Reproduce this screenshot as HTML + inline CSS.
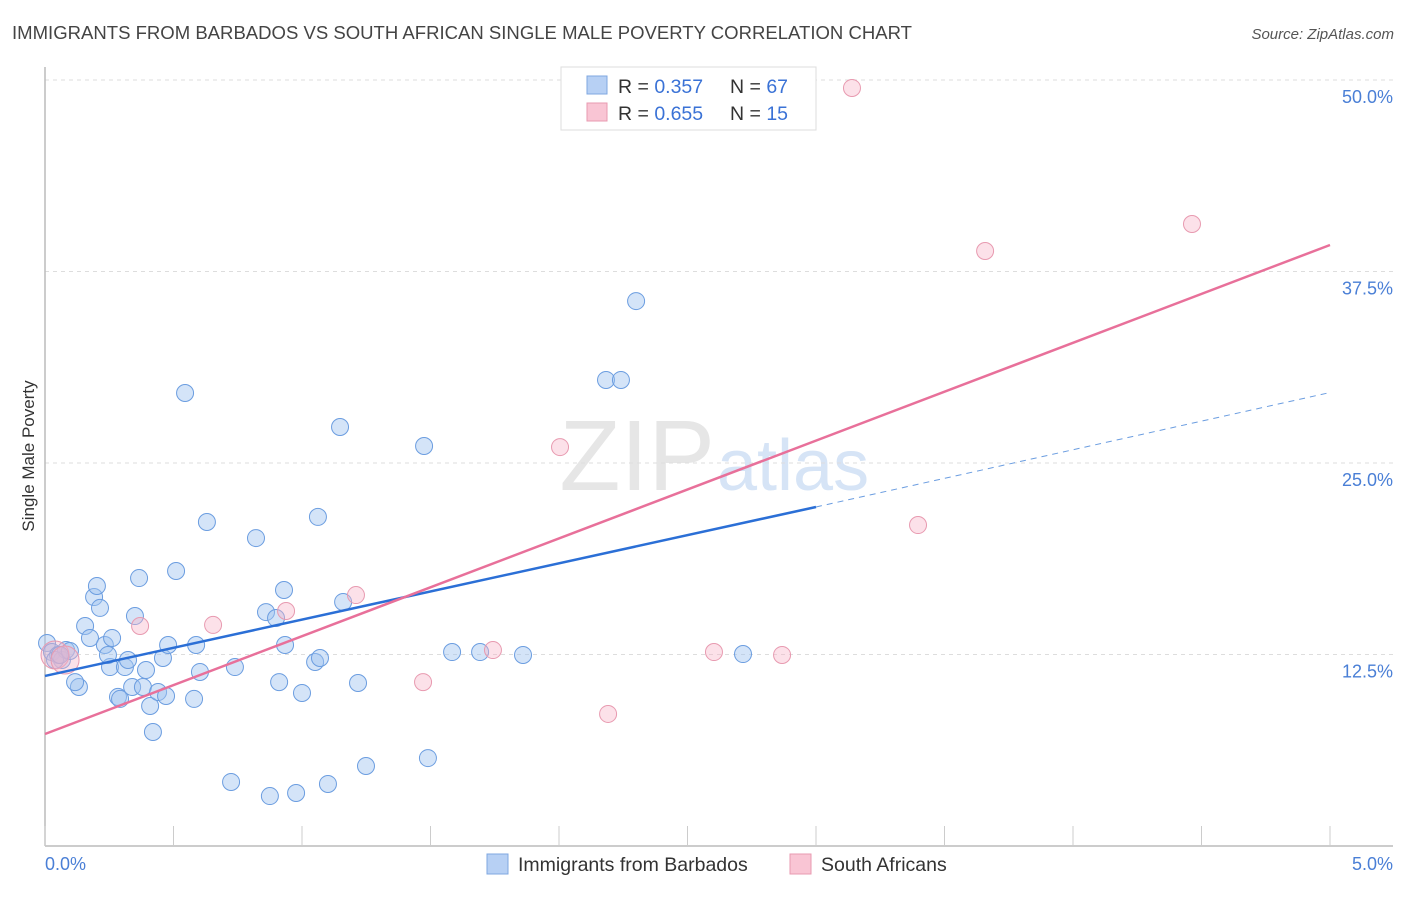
<!DOCTYPE html>
<html><head><meta charset="utf-8"><style>
body{margin:0;background:#fff;font-family:"Liberation Sans",sans-serif}
svg text{font-family:"Liberation Sans",sans-serif}
</style></head><body>
<svg id="c" width="1406" height="892">
<text x="12" y="39" font-size="18" fill="#444" textLength="900" lengthAdjust="spacingAndGlyphs">IMMIGRANTS FROM BARBADOS VS SOUTH AFRICAN SINGLE MALE POVERTY CORRELATION CHART</text>
<text x="1394" y="39" font-size="15" fill="#555" font-style="italic" text-anchor="end">Source: ZipAtlas.com</text>
<text x="0" y="0" transform="translate(34,456) rotate(-90)" font-size="17" fill="#333" text-anchor="middle">Single Male Poverty</text>
<text x="715" y="490" font-size="100" fill="#e6e6e6" font-family="Liberation Serif" text-anchor="end">ZIP</text>
<text x="717" y="490" font-size="72" fill="#d6e4f6">atlas</text>
<g id="grid"></g><g id="pts"></g><g id="lines"></g>
<g>
<rect x="561" y="67" width="255" height="63" fill="#fff" stroke="#ddd"/>
<rect x="587" y="76" width="20" height="18" fill="#b7d0f4" stroke="#7fa7e0"/>
<rect x="587" y="103" width="20" height="18" fill="#f9c5d4" stroke="#e89ab0"/>
<text x="618" y="93" font-size="19.5" fill="#333">R = <tspan fill="#3a72d6">0.357</tspan></text>
<text x="730" y="93" font-size="19.5" fill="#333">N = <tspan fill="#3a72d6">67</tspan></text>
<text x="618" y="120" font-size="19.5" fill="#333">R = <tspan fill="#3a72d6">0.655</tspan></text>
<text x="730" y="120" font-size="19.5" fill="#333">N = <tspan fill="#3a72d6"> 15</tspan></text>
</g>
<g>
<rect x="487" y="854" width="21" height="20" fill="#b7d0f4" stroke="#7fa7e0"/>
<text x="518" y="871" font-size="19.5" fill="#333">Immigrants from Barbados</text>
<rect x="790" y="854" width="21" height="20" fill="#f9c5d4" stroke="#e89ab0"/>
<text x="821" y="871" font-size="19.5" fill="#333">South Africans</text>
</g>
<text x="45" y="870" font-size="18" fill="#4a7fd6">0.0%</text>
<text x="1393" y="870" font-size="18" fill="#4a7fd6" text-anchor="end">5.0%</text>
</svg>
<script>
const yTicks=[12.5,25,37.5,50];
const yTickLabels=["12.5%","25.0%","37.5%","50.0%"];
const blueX=[.008,.027,.051,.066,.082,.097,.039,.058,.156,.175,.191,.202,.214,.233,.253,.261,.245,.284,.292,.311,.323,.339,.350,.366,.381,.393,.409,.420,.440,.459,.471,.479,.510,.545,.580,.588,.603,.630,.724,.739,.821,.860,.875,.899,.911,.930,.934,.977,1.000,1.051,1.062,1.070,1.101,1.148,1.160,1.218,1.249,1.475,1.490,1.584,1.693,1.860,2.183,2.241,2.300,2.716,.132,.117];
const blueY=[13.25,12.66,12.47,12.14,12.79,12.73,12.14,12.47,14.36,13.58,16.25,16.97,15.54,13.12,11.68,13.58,12.47,9.73,9.60,11.68,12.14,10.38,15.01,17.49,10.38,11.49,9.14,7.44,10.05,12.27,9.79,13.12,17.95,29.57,9.60,13.12,11.36,21.15,4.18,11.68,20.10,15.27,3.26,14.88,10.70,16.71,13.12,3.46,9.99,12.01,21.48,12.27,4.05,27.35,15.93,10.64,5.22,26.11,5.74,12.66,12.66,12.47,30.42,30.42,35.57,12.53,10.38,10.70];
const pinkX=[.039,.078,.370,.654,.938,1.210,1.471,1.743,2.004,2.191,2.603,2.868,3.140,3.397,3.658,4.463];
const pinkY=[12.47,12.14,14.36,14.43,15.34,16.38,10.70,12.79,26.04,8.62,12.66,12.47,49.48,20.95,38.84,40.60];
const blueLine=[11.10,22.13,29.6]; // y at x=0, x=3, x=5
const pinkLine=[7.31,39.23]; // y at x=0, x=5
const X=v=>45+v/5*1285, Y=v=>846-v/50*766;
const NS="http://www.w3.org/2000/svg";
function mk(t,a,p){const e=document.createElementNS(NS,t);for(const k in a)e.setAttribute(k,a[k]);p.appendChild(e);return e;}
const g=document.getElementById('grid');
yTicks.forEach((t,i)=>{
 const l=mk('line',{x1:45,x2:1393,y1:Y(t),y2:Y(t),stroke:'#ddd','stroke-dasharray':'4,4'},g);
 
 
 const tx=mk('text',{x:1393,y:Y(t)+23,'font-size':18,fill:'#4a7fd6','text-anchor':'end'},g);
 tx.textContent=yTickLabels[i];
 
 
});
mk('line',{x1:45,x2:45,y1:67,y2:846,stroke:'#bbb','stroke-width':1.5},g);
mk('line',{x1:45,x2:1393,y1:846,y2:846,stroke:'#bbb','stroke-width':1.5},g);
for(let i=0;i<=10;i++){const x=X(i*0.5);const t=mk('line',{x1:x,x2:x,y1:826,y2:846,stroke:'#ccc'},g);
 
 }
const p=document.getElementById('pts');
blueX.forEach((x,i)=>{const c=mk('circle',{cx:X(x),cy:Y(blueY[i]),r:8.5,fill:'rgba(160,195,240,0.45)',stroke:'#6b9de0','stroke-width':1},p);
 
 });
pinkX.forEach((x,i)=>{const c=mk('circle',{cx:X(x),cy:Y(pinkY[i]),r:i<2?14:8.5,fill:'rgba(248,180,200,0.4)',stroke:'#e89ab0','stroke-width':1},p);
 
 });
const L=document.getElementById('lines');
const b1=mk('line',{x1:X(0),y1:Y(blueLine[0]),x2:X(3),y2:Y(blueLine[1]),stroke:'#2b6fd6','stroke-width':2.5},L);


const b2=mk('line',{x1:X(3),y1:Y(blueLine[1]),x2:X(5),y2:Y(blueLine[2]),stroke:'#6b9de0','stroke-width':1,'stroke-dasharray':'6,5'},L);


const p1=mk('line',{x1:X(0),y1:Y(pinkLine[0]),x2:X(5),y2:Y(pinkLine[1]),stroke:'#e8709a','stroke-width':2.5},L);


</script>
</body></html>
